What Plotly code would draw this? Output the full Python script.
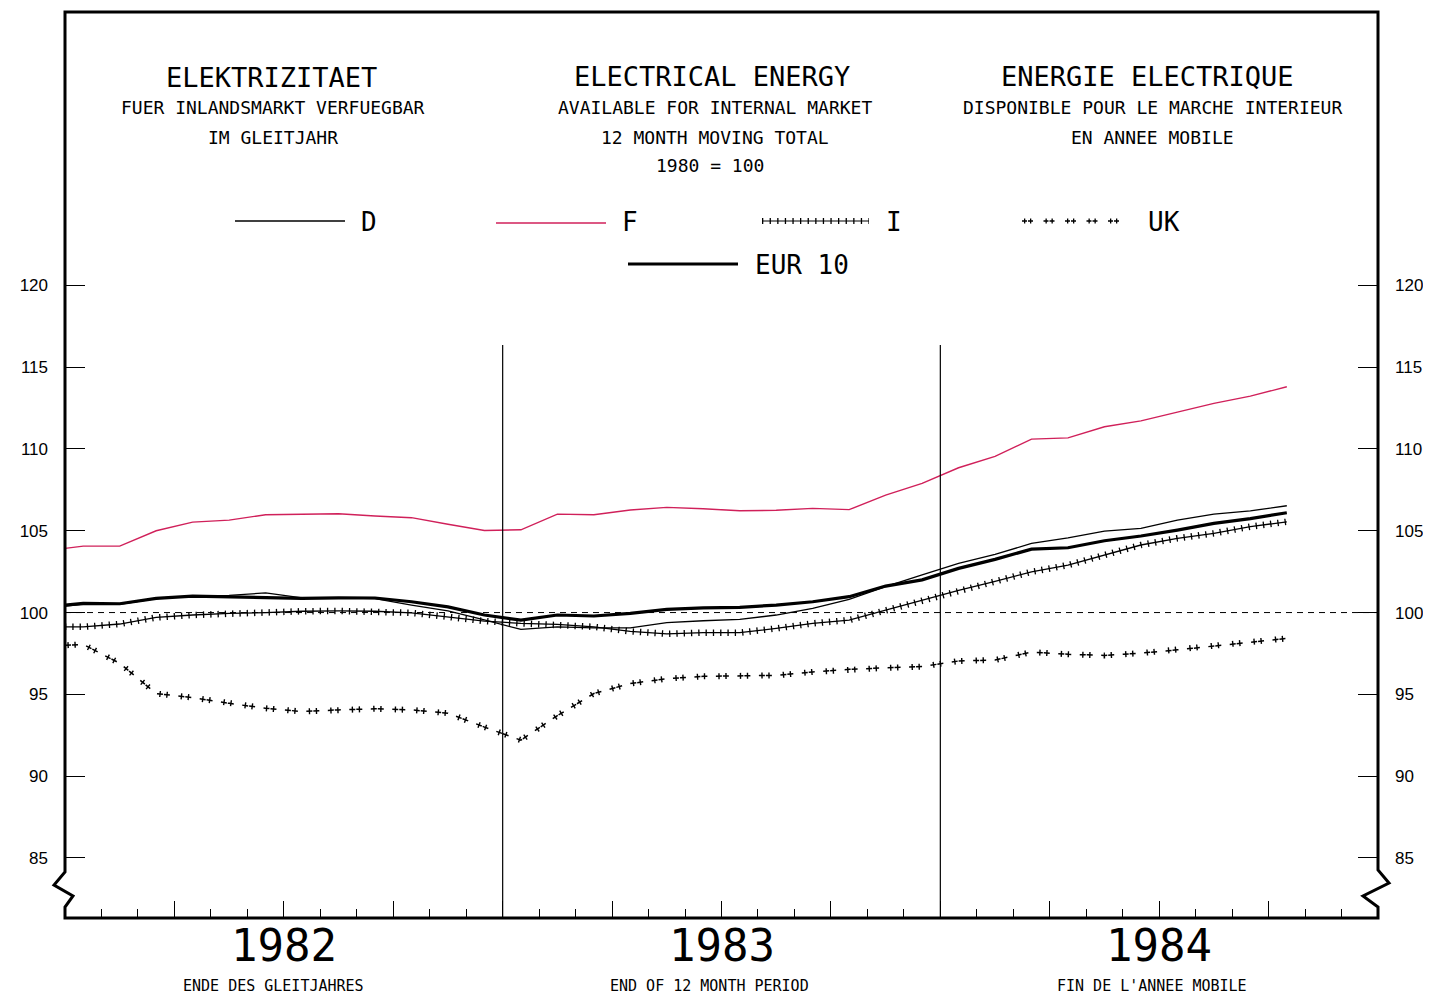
import plotly.graph_objects as go

# ---------------- data (index 1980 = 100, 12-month moving totals) ----------------
MONTHS = [0, 0.5, 1.5, 2.5, 3.5, 4.5, 5.5, 6.5, 7.5, 8.5, 9.5, 10.5, 11.5,
          12.5, 13.5, 14.5, 15.5, 16.5, 17.5, 18.5, 19.5, 20.5, 21.5, 22.5, 23.5,
          24.5, 25.5, 26.5, 27.5, 28.5, 29.5, 30.5, 31.5, 32.5, 33.5]

D_VALUES = [100.40, 100.50, 100.50, 100.85, 101.00, 101.05, 101.20, 100.90, 100.90,
            100.85, 100.45, 100.10, 99.55, 98.97, 99.13, 99.07, 99.07, 99.38, 99.50,
            99.58, 99.85, 100.26, 100.81, 101.58, 102.30, 103.00, 103.55, 104.23,
            104.57, 104.98, 105.15, 105.65, 106.02, 106.22, 106.53]

F_VALUES = [103.92, 104.06, 104.06, 105.00, 105.53, 105.65, 105.98, 106.00, 106.04,
            105.90, 105.80, 105.40, 105.02, 105.06, 106.02, 105.98, 106.27, 106.43,
            106.35, 106.22, 106.25, 106.37, 106.29, 107.18, 107.90, 108.85, 109.55,
            110.60, 110.68, 111.36, 111.72, 112.25, 112.79, 113.23, 113.80]

I_VALUES = [99.13, 99.13, 99.30, 99.70, 99.85, 99.95, 100.00, 100.08, 100.10, 100.08,
            99.98, 99.74, 99.48, 99.34, 99.28, 99.13, 98.85, 98.70, 98.77, 98.77,
            99.03, 99.34, 99.54, 100.15, 100.76, 101.35, 101.90, 102.49, 102.90,
            103.51, 104.13, 104.54, 104.84, 105.25, 105.55]

UK_VALUES = [98.00, 98.05, 96.90, 95.05, 94.80, 94.45, 94.15, 93.95, 94.05, 94.12,
             94.05, 93.85, 93.00, 92.20, 93.70, 95.05, 95.66, 95.96, 96.10, 96.12,
             96.16, 96.37, 96.53, 96.62, 96.70, 97.04, 97.10, 97.58, 97.45, 97.38,
             97.52, 97.72, 97.96, 98.20, 98.42]

EUR10_VALUES = [100.46, 100.56, 100.54, 100.87, 101.00, 100.97, 100.93, 100.87,
                100.90, 100.89, 100.66, 100.35, 99.85, 99.54, 99.85, 99.79, 99.95,
                100.20, 100.29, 100.32, 100.46, 100.66, 100.97, 101.62, 102.00,
                102.70, 103.25, 103.88, 103.96, 104.39, 104.68, 105.04, 105.45,
                105.74, 106.10]

Y_TICKS = [85, 90, 95, 100, 105, 110, 115, 120]
YEAR_LABELS = ["1982", "1983", "1984"]
YEAR_CENTERS = [6, 18, 30]
YEAR_BOUNDARIES = [12, 24]
BASE_VALUE = 100

# ---------------- layout geometry (window pixels; page has an 8px body margin) ----
OFF = 8
W, H = 1431 - OFF, 1006 - 2 * OFF
L, R, T, B = 65, 1378, 12, 918          # frame in window pixels
Y_RANGE = [81.33, 136.71]
X_RANGE = [0, 36]
RED = "#d0205a"
MONO = "DejaVu Sans Mono"
SANS = "Liberation Sans"


def pxx(x):
    return (x - L) / (R - L)


def pxy(y):
    return (B - y) / (B - T)


I_CROSS = "1.3px,6px"
UK_H = "6px,1px,6px,8.5px"
UK_V = "0px,2.4px,1.4px,5.6px,1.4px,10.7px"

fig = go.Figure()

fig.add_trace(go.Scatter(x=MONTHS, y=D_VALUES, mode="lines",
                         line=dict(color="black", width=1.3), name="D"))
fig.add_trace(go.Scatter(x=MONTHS, y=F_VALUES, mode="lines",
                         line=dict(color=RED, width=1.4), name="F"))
fig.add_trace(go.Scatter(x=MONTHS, y=I_VALUES, mode="lines",
                         line=dict(color="black", width=1.3), name="I"))
fig.add_trace(go.Scatter(x=MONTHS, y=I_VALUES, mode="lines",
                         line=dict(color="black", width=6.5, dash=I_CROSS),
                         showlegend=False, hoverinfo="skip"))
fig.add_trace(go.Scatter(x=MONTHS, y=UK_VALUES, mode="lines",
                         line=dict(color="black", width=1.5, dash=UK_H), name="UK"))
fig.add_trace(go.Scatter(x=MONTHS, y=UK_VALUES, mode="lines",
                         line=dict(color="black", width=6, dash=UK_V),
                         showlegend=False, hoverinfo="skip"))
fig.add_trace(go.Scatter(x=MONTHS, y=EUR10_VALUES, mode="lines",
                         line=dict(color="black", width=3.2), name="EUR 10"))
fig.add_trace(go.Scatter(x=[], y=[], yaxis="y2", showlegend=False))

shapes = []
shapes.append(dict(type="line", xref="x", yref="y", x0=X_RANGE[0], x1=X_RANGE[1],
                   y0=BASE_VALUE, y1=BASE_VALUE, layer="below",
                   line=dict(color="black", width=1, dash="6px,5px")))
for xb in YEAR_BOUNDARIES:
    shapes.append(dict(type="line", xref="x", yref="y", x0=xb, x1=xb,
                       y0=Y_RANGE[0], y1=116.35,
                       line=dict(color="black", width=1.2)))
frame_pts = [(65, 12), (65, 872), (54, 885), (73, 896), (65, 907), (65, 918),
             (1378, 918), (1378, 907), (1363, 896), (1389, 883), (1378, 870),
             (1378, 12)]
path = "M " + " L ".join(f"{pxx(x):.5f},{pxy(y):.5f}" for x, y in frame_pts) + " Z"
shapes.append(dict(type="path", xref="paper", yref="paper", path=path,
                   line=dict(color="black", width=3)))


def key_line(x0, x1, y, **line):
    shapes.append(dict(type="line", xref="paper", yref="paper",
                       x0=pxx(x0), x1=pxx(x1), y0=pxy(y), y1=pxy(y), line=line))


key_line(235, 345, 221, color="black", width=1.3)
key_line(496, 606, 223, color=RED, width=1.4)
key_line(762, 869, 221, color="black", width=1.2)
key_line(762, 869, 221, color="black", width=6, dash="1.3px,6.3px")
key_line(1022, 1126, 221, color="black", width=1.3, dash="5px,1px,5px,10.5px")
key_line(1022, 1126, 221, color="black", width=5, dash="0px,2px,1.3px,4.7px,1.3px,12.2px")
key_line(628, 738, 264, color="black", width=3.2)

annotations = []


def txt(text, x, y, size, anchor="center", family=MONO):
    annotations.append(dict(text=text, x=pxx(x), y=pxy(y), xref="paper", yref="paper",
                            xanchor=anchor, yanchor="middle", showarrow=False,
                            font=dict(family=family, size=size, color="black")))


txt("ELEKTRIZITAET", 271, 77, 27)
txt("FUER INLANDSMARKT VERFUEGBAR", 273, 108, 18)
txt("IM GLEITJAHR", 273, 137, 18)
txt("ELECTRICAL ENERGY", 712, 76, 27)
txt("AVAILABLE FOR INTERNAL MARKET", 715, 108, 18)
txt("12 MONTH MOVING TOTAL", 715, 137, 18)
txt("1980 = 100", 710, 166, 18)
txt("ENERGIE ELECTRIQUE", 1147, 76, 27)
txt("DISPONIBLE POUR LE MARCHE INTERIEUR", 1152, 108, 18)
txt("EN ANNEE MOBILE", 1152, 137, 18)

txt("D", 369, 222, 26)
txt("F", 630, 222, 26)
txt("I", 894, 222, 26)
txt("UK", 1164, 222, 26)
txt("EUR 10", 753, 265, 26, anchor="left")

for lab, xc in zip(YEAR_LABELS, YEAR_CENTERS):
    annotations.append(dict(text=lab, x=xc, y=pxy(945), xref="x", yref="paper",
                            xanchor="center", yanchor="middle", showarrow=False,
                            font=dict(family=MONO, size=44, color="black")))

txt("ENDE DES GLEITJAHRES", 273, 986, 15)
txt("END OF 12 MONTH PERIOD", 709, 986, 15)
txt("FIN DE L'ANNEE MOBILE", 1152, 986, 15)

yaxis_common = dict(range=Y_RANGE, tickvals=Y_TICKS, ticks="inside", ticklen=20,
                    tickwidth=1.3, tickcolor="black", showgrid=False, zeroline=False,
                    showline=False, ticklabelstandoff=16,
                    tickfont=dict(family=SANS, size=17, color="black"))

fig.update_layout(
    width=W, height=H,
    margin=dict(l=L - OFF, r=W - (R - OFF), t=T - OFF, b=H - (B - OFF), pad=0),
    paper_bgcolor="white", plot_bgcolor="white",
    showlegend=False,
    xaxis=dict(range=X_RANGE, showgrid=False, zeroline=False, showline=False,
               tickvals=[3, 6, 9, 12, 15, 18, 21, 24, 27, 30, 33],
               ticks="inside", ticklen=17, tickwidth=1.3, tickcolor="black",
               showticklabels=False,
               minor=dict(tickvals=list(range(1, 36)), ticks="inside", ticklen=9,
                          tickwidth=1.3, tickcolor="black", showgrid=False)),
    yaxis=dict(**yaxis_common),
    yaxis2=dict(**yaxis_common, overlaying="y", side="right"),
    shapes=shapes,
    annotations=annotations,
)

fig.write_html("out.html")
